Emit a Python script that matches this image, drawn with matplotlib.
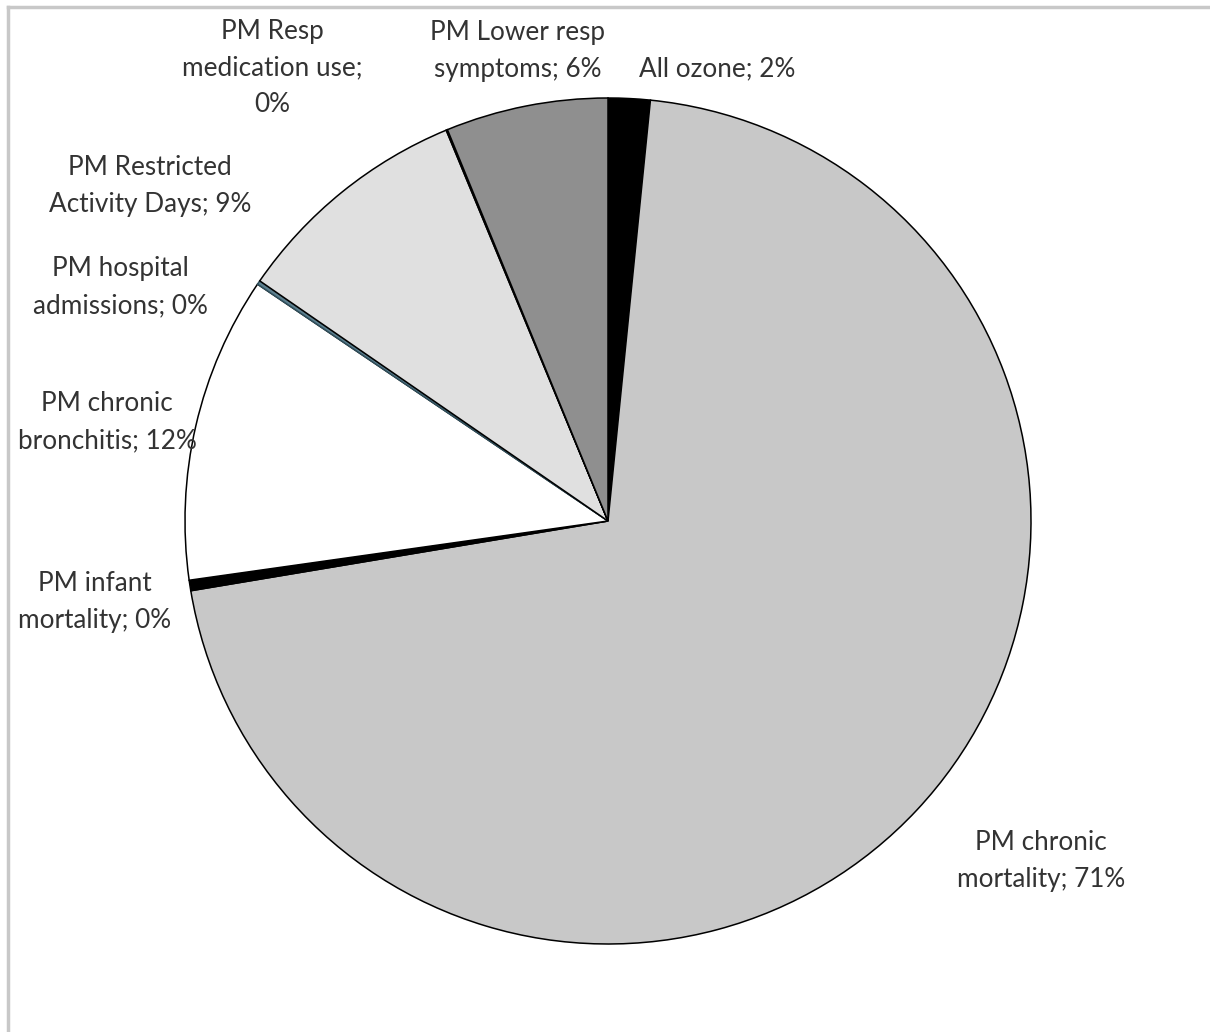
import matplotlib
matplotlib.use('Agg')
import matplotlib.pyplot as plt
from matplotlib.lines import Line2D

# Share of health benefits by endpoint, clockwise from 12 o'clock
categories = ['All ozone', 'PM chronic mortality', 'PM infant mortality',
              'PM chronic bronchitis', 'PM hospital admissions',
              'PM Restricted Activity Days', 'PM Resp medication use',
              'PM Lower resp symptoms']
shares = [1.6, 70.8, 0.4, 11.7, 0.15, 9.15, 0.05, 6.2]
label_texts = ['All ozone; 2%', 'PM chronic\nmortality; 71%', 'PM infant\nmortality; 0%',
               'PM chronic\nbronchitis; 12%', 'PM hospital\nadmissions; 0%',
               'PM Restricted\nActivity Days; 9%', 'PM Resp\nmedication use;\n0%',
               'PM Lower resp\nsymptoms; 6%']

# styling / layout (pixel space of the 1210x1032 canvas, y measured from top)
colors = ['#000000', '#c8c8c8', '#000000', '#ffffff', '#5d7f8e',
          '#e0e0e0', '#7a7a7a', '#8f8f8f']
label_xy = [(717, 69), (1041, 861), (95, 602), (107, 422), (120, 287),
            (150, 186), (272, 68), (518, 51)]
W, H = 1210, 1032

plt.rcParams['font.family'] = ['Lato', 'DejaVu Sans']

fig = plt.figure(figsize=(W / 100, H / 100), dpi=100)
ax = fig.add_axes([0, 0, 1, 1])

wedges, _ = ax.pie(shares, colors=colors, startangle=90, counterclock=False,
                   center=(608, H - 521), radius=423,
                   wedgeprops=dict(edgecolor='black', linewidth=1.1))
wedges[4].set_edgecolor('#2f4f5c')

# pie() resets the limits, so set the pixel-space frame afterwards
ax.set_xlim(0, W)
ax.set_ylim(0, H)
ax.set_aspect('equal')
ax.axis('off')

for txt, (x, y) in zip(label_texts, label_xy):
    ax.text(x, H - y, txt, ha='center', va='center', fontsize=18.8,
            color='#333333', linespacing=1.6)

# light gray frame (top and left edge)
fig.add_artist(Line2D([8 / W, 1], [1 - 7 / H, 1 - 7 / H], color='#c8c8c8', lw=2.5))
fig.add_artist(Line2D([8 / W, 8 / W], [0, 1 - 7 / H], color='#c8c8c8', lw=2.5))

fig.savefig('out.png', dpi=100)
